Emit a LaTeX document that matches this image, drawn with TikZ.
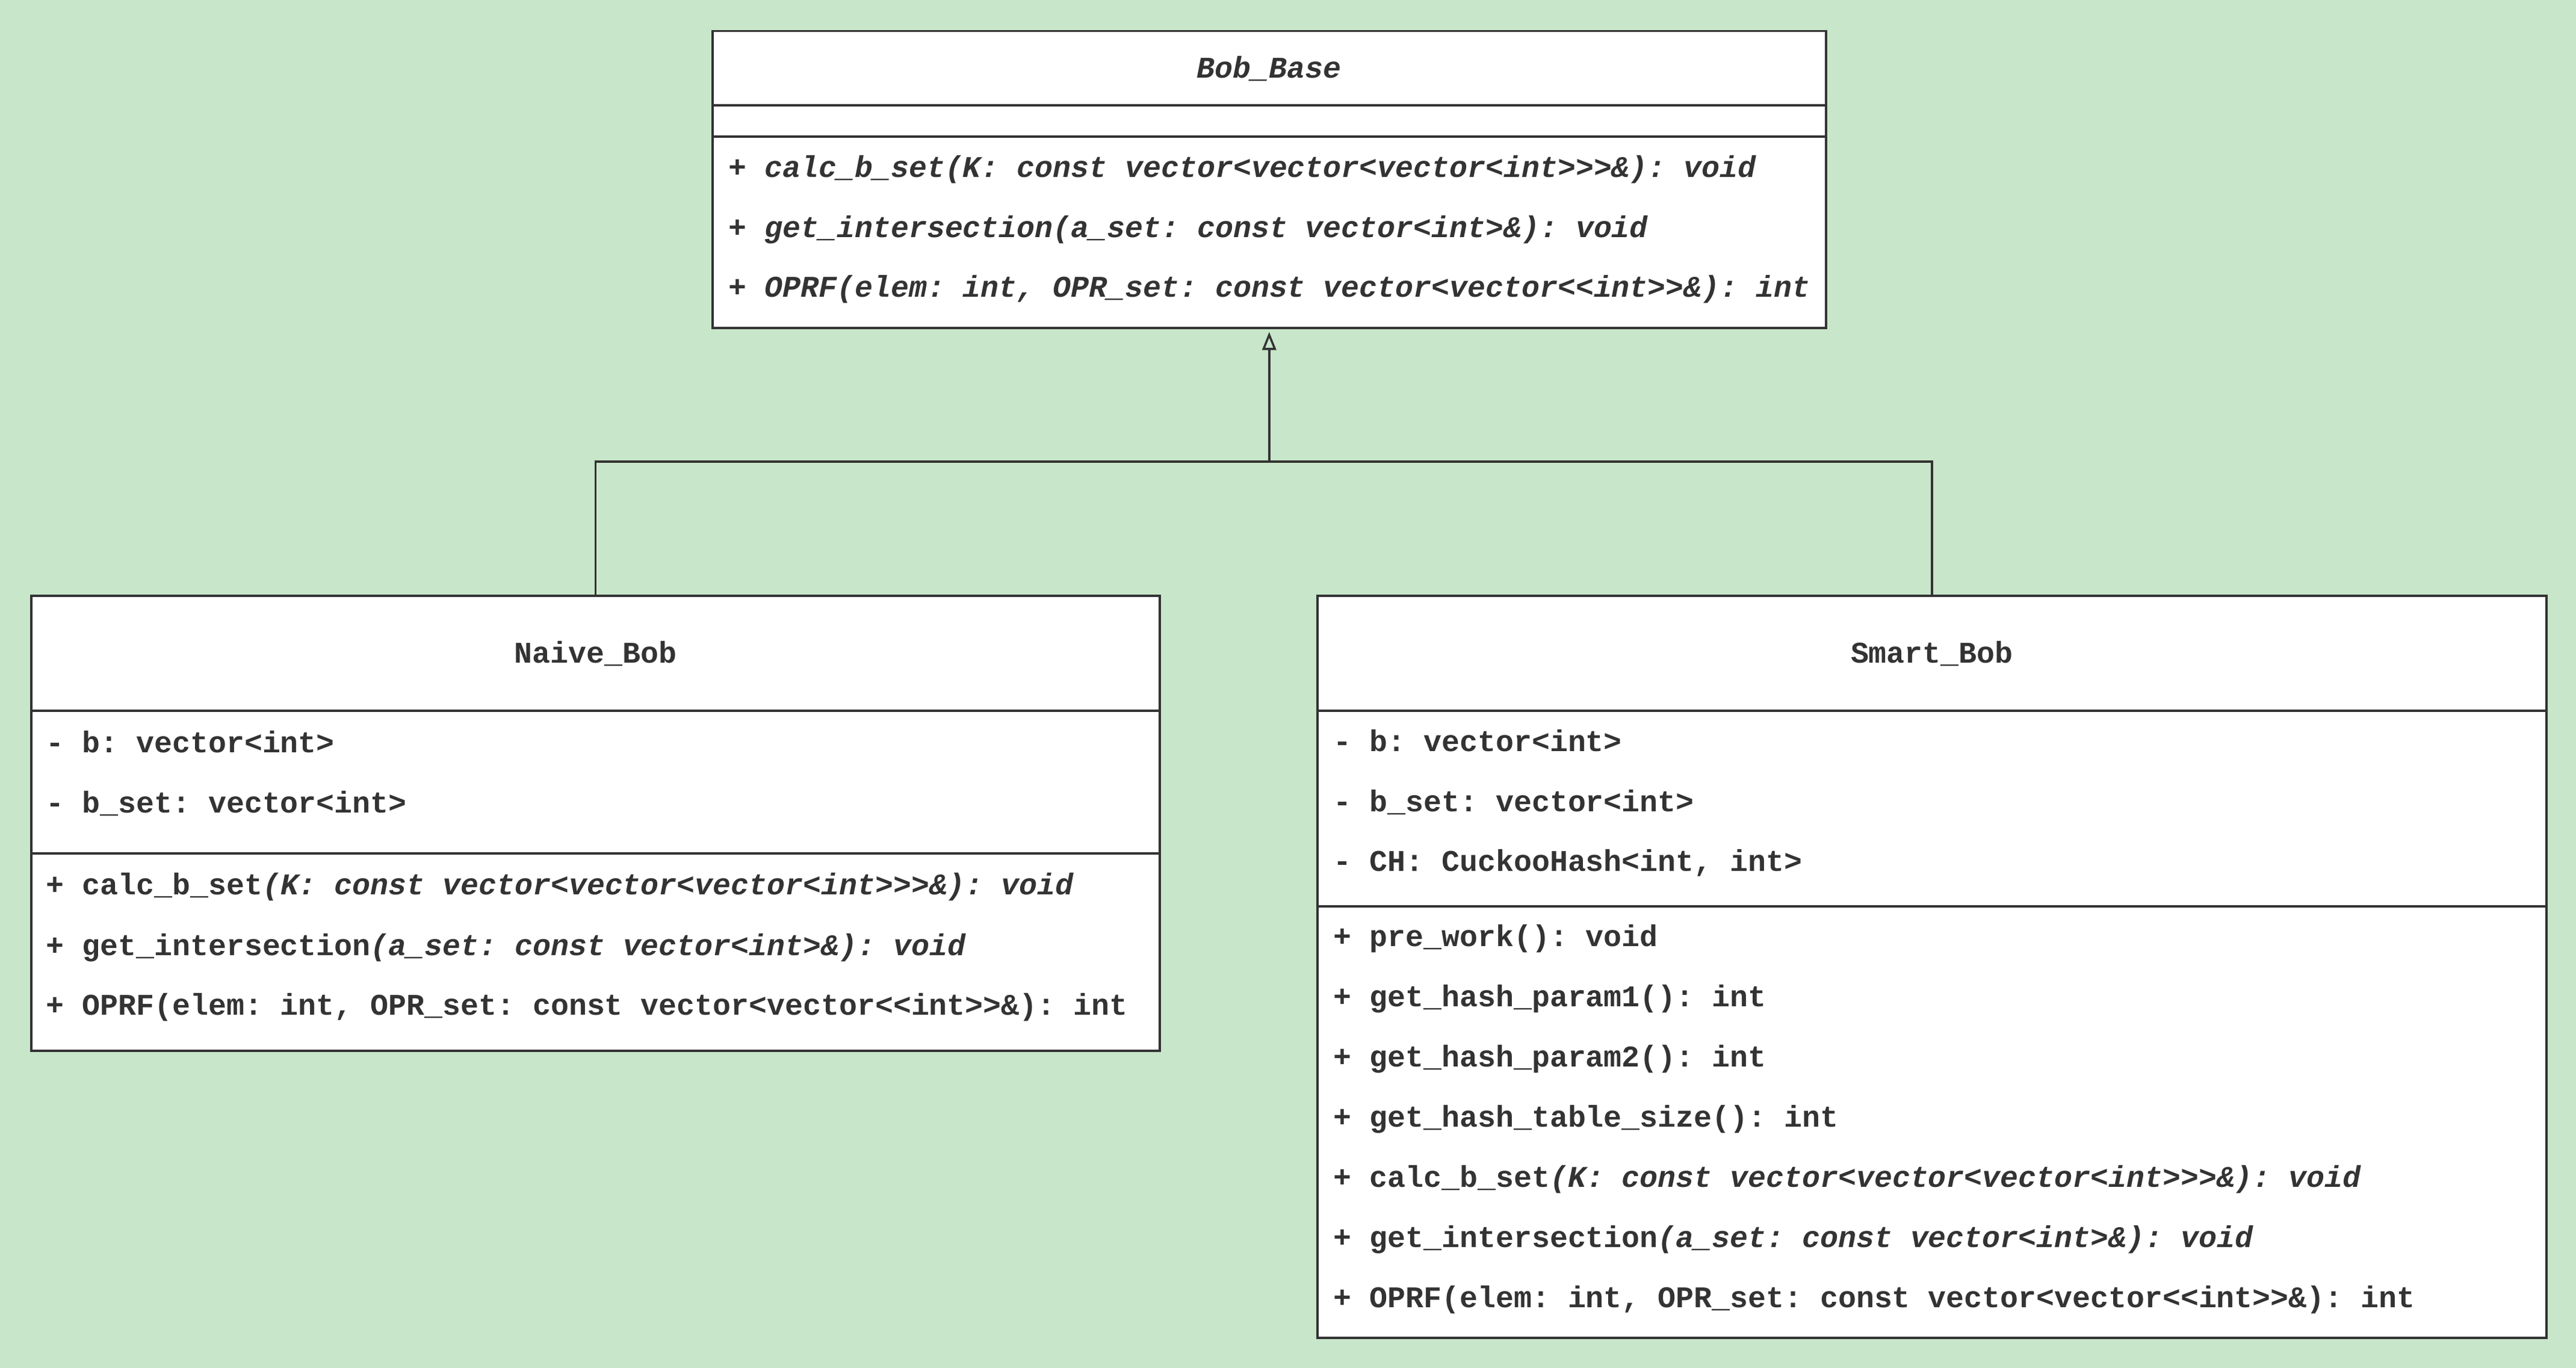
\documentclass[tikz,border=0pt]{standalone}
\usepackage{fontspec}
\setmonofont{Liberation Mono}
\usetikzlibrary{arrows.meta}
\definecolor{bggreen}{HTML}{C8E6C9}
\definecolor{umlline}{HTML}{333333}
\newcommand{\umlfont}{\ttfamily\bfseries\fontsize{14.2}{17}\selectfont}
\tikzset{
  classbox/.style={rectangle,draw=umlline,fill=white,line width=1pt,anchor=north west,inner sep=0pt},
  classline/.style={draw=umlline,line width=1pt},
  classname/.style={anchor=base,inner sep=0pt,text=umlline,font=\umlfont},
  member/.style={anchor=base west,inner sep=0pt,text=umlline,font=\umlfont},
}
\begin{document}
\begin{tikzpicture}
\fill[bggreen] (0,0) rectangle (42.8,-22.73);
% base class
\node[classbox,minimum width=18.5cm,minimum height=4.93cm] (base) at (11.82,-0.50) {};
\draw[classline] (base.west |- 0,-1.75) -- (base.east |- 0,-1.75);
\draw[classline] (base.west |- 0,-2.27) -- (base.east |- 0,-2.27);
\node[classname] (basename) at (base.north |- 0,-1.30) {\itshape Bob\_Base};
\node[member] (basem1) at (12.10,-2.95) {\itshape + calc\_b\_set(K: const vector<vector<vector<int>>>\&): void};
\node[member] (basem2) at (12.10,-3.95) {\itshape + get\_intersection(a\_set: const vector<int>\&): void};
\node[member] (basem3) at (12.10,-4.94) {\itshape + OPRF(elem: int, OPR\_set: const vector<vector<<int>>\&): int};
% naive
\node[classbox,minimum width=18.75cm,minimum height=7.56cm] (naive) at (0.50,-9.88) {};
\draw[classline] (naive.west |- 0,-11.81) -- (naive.east |- 0,-11.81);
\draw[classline] (naive.west |- 0,-14.18) -- (naive.east |- 0,-14.18);
\node[classname] (naivename) at (naive.north |- 0,-11.02) {Naive\_Bob};
\node[member] (naivea1) at (0.76,-12.51) {- b: vector<int>};
\node[member] (naivea2) at (0.76,-13.51) {- b\_set: vector<int>};
\node[member] (naivem1) at (0.76,-14.86) {+ calc\_b\_set\textit{(K: const vector<vector<vector<int>>>\&): void}};
\node[member] (naivem2) at (0.76,-15.87) {+ get\_intersection\textit{(a\_set: const vector<int>\&): void}};
\node[member] (naivem3) at (0.76,-16.86) {+ OPRF(elem: int, OPR\_set: const vector<vector<<int>>\&): int};
% smart
\node[classbox,minimum width=20.42cm,minimum height=12.33cm] (smart) at (21.87,-9.88) {};
\draw[classline] (smart.west |- 0,-11.81) -- (smart.east |- 0,-11.81);
\draw[classline] (smart.west |- 0,-15.06) -- (smart.east |- 0,-15.06);
\node[classname] (smartname) at (smart.north |- 0,-11.02) {Smart\_Bob};
\node[member] (smarta1) at (22.15,-12.49) {- b: vector<int>};
\node[member] (smarta2) at (22.15,-13.49) {- b\_set: vector<int>};
\node[member] (smarta3) at (22.15,-14.48) {- CH: CuckooHash<int, int>};
\node[member] (smartm1) at (22.15,-15.72) {+ pre\_work(): void};
\node[member] (smartm2) at (22.15,-16.72) {+ get\_hash\_param1(): int};
\node[member] (smartm3) at (22.15,-17.72) {+ get\_hash\_param2(): int};
\node[member] (smartm4) at (22.15,-18.72) {+ get\_hash\_table\_size(): int};
\node[member] (smartm5) at (22.15,-19.72) {+ calc\_b\_set\textit{(K: const vector<vector<vector<int>>>\&): void}};
\node[member] (smartm6) at (22.15,-20.72) {+ get\_intersection\textit{(a\_set: const vector<int>\&): void}};
\node[member] (smartm7) at (22.15,-21.72) {+ OPRF(elem: int, OPR\_set: const vector<vector<<int>>\&): int};
% inheritance
\coordinate (join) at (base.south |- 0,-7.67);
\draw[classline] (naive.north) |- (join) -| (smart.north);
\draw[classline,-{Triangle[open,width=0.23cm,length=0.3cm]},shorten >=0.05cm] (join) -- (base.south);
\end{tikzpicture}
\end{document}
